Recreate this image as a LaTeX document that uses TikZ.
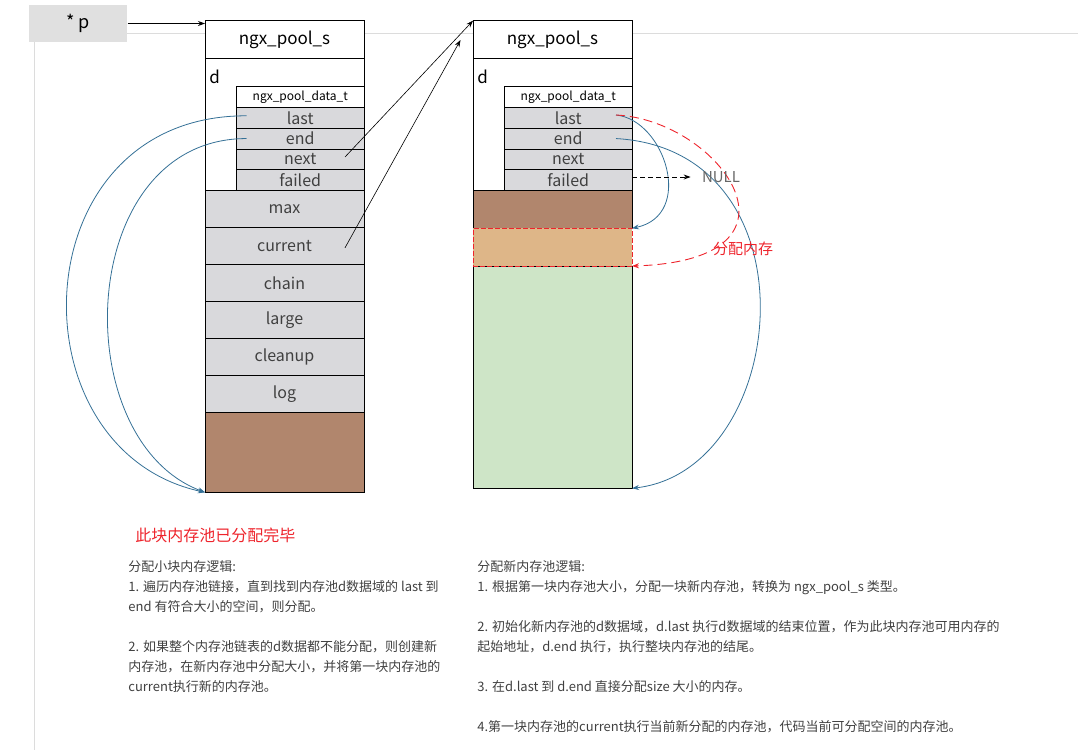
\documentclass[tikz,border=0pt]{standalone}
\usepackage{fontspec}
\setmainfont{Noto Sans CJK SC}
\usetikzlibrary{arrows.meta}
\definecolor{cellgray}{RGB}{217,217,220}
\definecolor{ptrgray}{RGB}{224,224,224}
\definecolor{usedbrown}{RGB}{177,134,109}
\definecolor{newtan}{RGB}{222,182,136}
\definecolor{freegreen}{RGB}{206,229,199}
\definecolor{linkblue}{RGB}{52,112,150}
\definecolor{allocred}{RGB}{238,36,44}
\definecolor{textgray}{RGB}{64,64,64}
\definecolor{framegray}{RGB}{220,220,220}
\tikzset{every picture/.style={line width=.8pt}}

\begin{document}
\begin{tikzpicture}[x=1pt,y=-1pt,
 cell/.style={draw,fill=white,inner sep=0pt,outer sep=0pt,minimum width=159pt},
 field/.style={cell,fill=cellgray,minimum width=127.5pt,minimum height=20.75pt,
  text=textgray,font=\fontsize{16}{16}\selectfont},
 member/.style={cell,fill=cellgray,minimum height=37pt,text=textgray,
  font=\fontsize{16}{16}\selectfont},
 headtxt/.style={font=\fontsize{17}{17}\selectfont},
 note/.style={align=left,inner sep=0pt,text=textgray,font=\fontsize{13}{20}\selectfont},
 linkarrow/.style={line width=.6pt,-{Stealth[length=7pt,width=5pt]}},
 bluearrow/.style={linkblue,line width=.8pt,-{Stealth[length=7pt,width=5pt]}},
 allocarrow/.style={allocred,line width=.9pt,dash pattern=on 9pt off 5pt,
  -{Stealth[length=7pt,width=5pt]}},
 nullarrow/.style={line width=.9pt,dash pattern=on 5pt off 3pt,
  -{Stealth[length=7pt,width=5pt]}}]
 \useasboundingbox (0,0) rectangle (1078,750);
 % page frame
 \draw[framegray] (127.4,33.3) -- (1078,33.3);
 \draw[framegray] (34.5,42.3) -- (34.5,750);
 \node[fill=ptrgray,minimum width=98pt,minimum height=37.6pt,inner sep=0pt,
  font=\fontsize{18}{18}\selectfont] (ptr) at (78.2,23.5) {* p};

 % first pool (full)
 \node[cell,headtxt,minimum height=37.6pt] (L-head) at (284.5,39.5) {ngx\_pool\_s};
 \node[cell,minimum height=132pt] (L-d) at (284.5,124.3) {};
 \node[headtxt,anchor=west,inner sep=0pt] (L-dlbl) at ([xshift=4pt,yshift=-18.5pt]L-d.north west) {d};
 \node[field,fill=white,text=black,font=\fontsize{12}{12}\selectfont] (L-dt) at (300.25,97.05) {ngx\_pool\_data\_t};
 \foreach \f [count=\i] in {last,end,next,failed}
  \node[field] (L-\f) at (300.25,97.05+20.75*\i) {\f};
 \foreach \f [count=\i] in {max,current,chain,large,cleanup,log}
  \node[member] (L-\f) at (284.5,171.8+37*\i) {\f};
 \node[cell,fill=usedbrown,minimum height=80pt] (L-used) at (284.5,452.3) {};

 % second pool (new)
 \node[cell,headtxt,minimum height=37.6pt] (R-head) at (552.5,39.5) {ngx\_pool\_s};
 \node[cell,minimum height=132pt] (R-d) at (552.5,124.3) {};
 \node[headtxt,anchor=west,inner sep=0pt] (R-dlbl) at ([xshift=4pt,yshift=-18.5pt]R-d.north west) {d};
 \node[field,fill=white,text=black,font=\fontsize{12}{12}\selectfont] (R-dt) at (568.25,97.05) {ngx\_pool\_data\_t};
 \foreach \f [count=\i] in {last,end,next,failed}
  \node[field] (R-\f) at (568.25,97.05+20.75*\i) {\f};
 \node[cell,fill=usedbrown,minimum height=38pt] (R-used) at (552.5,209.3) {};
 \node[cell,fill=freegreen,minimum height=222.3pt] (R-free) at (552.5,377.15) {};
 \node[cell,fill=newtan,draw=allocred,dash pattern=on 5pt off 2pt,minimum height=37.7pt] (R-alloc) at (552.5,247.15) {};

 % links
 \draw[line width=.9pt,-{Stealth[length=7pt,width=5pt]}] (ptr.east) -- (ptr.east -| L-head.west);
 \draw[linkarrow] ([xshift=-19pt,yshift=2.3pt]L-next.east) -- (R-head.north west);
 \draw[linkarrow] ([xshift=-19pt,yshift=-2pt]L-current.east) -- ([xshift=-12.5pt,yshift=-19.3pt]R-head.north west);
 \draw[bluearrow] ([xshift=10pt,yshift=2pt]L-last.west) .. controls +(-226.6,-0.7) and +(-195,-42.3) .. (L-used.south west);
 \draw[bluearrow] ([xshift=10pt]L-end.west) .. controls +(-171.6,0) and +(-140,-52.3) .. (L-used.south west);
 \draw[bluearrow] ([xshift=-16pt,yshift=2.8pt]R-last.east) .. controls +(49,5) and +(63,-13.3) .. (R-used.south east);
 \draw[bluearrow] ([xshift=-16pt]R-end.east) .. controls +(204,11.5) and +(158,-18.3) .. (R-free.south east);
 \draw[allocarrow] ([xshift=-16pt,yshift=2.8pt]R-last.east) .. controls +(104,5) and +(189,-6) .. (R-alloc.south east);
 \node[inner sep=0pt,text=textgray!80,font=\fontsize{15}{15}\selectfont] (nul) at (721,177) {NULL};
 \draw[nullarrow] (R-failed.east |- nul.west) -- ([xshift=-11pt]nul.west);
 \node[text=allocred,font=\fontsize{15}{15}\selectfont] (alloc-lbl) at (743,249) {分配内存};

 % notes
 \node[anchor=west,inner sep=0pt,text=allocred,font=\fontsize{16}{16}\selectfont] (full-lbl) at (135,535) {此块内存池已分配完毕};
 \node[note,anchor=north west] (small-txt) at (128,560) {分配小块内存逻辑:\\
  1. 遍历内存池链接，直到找到内存池d数据域的 last 到\\
  end 有符合大小的空间，则分配。\\[20pt]
  2. 如果整个内存池链表的d数据都不能分配，则创建新\\
  内存池，在新内存池中分配大小，并将第一块内存池的\\
  current执行新的内存池。};
 \node[note,anchor=north west] (new-txt) at (477,560) {分配新内存池逻辑:\\
  1. 根据第一块内存池大小，分配一块新内存池，转换为 ngx\_pool\_s 类型。\\[20pt]
  2. 初始化新内存池的d数据域，d.last 执行d数据域的结束位置，作为此块内存池可用内存的\\
  起始地址，d.end 执行，执行整块内存池的结尾。\\[20pt]
  3. 在d.last 到 d.end 直接分配size 大小的内存。\\[20pt]
  4.第一块内存池的current执行当前新分配的内存池，代码当前可分配空间的内存池。};
\end{tikzpicture}
\end{document}
